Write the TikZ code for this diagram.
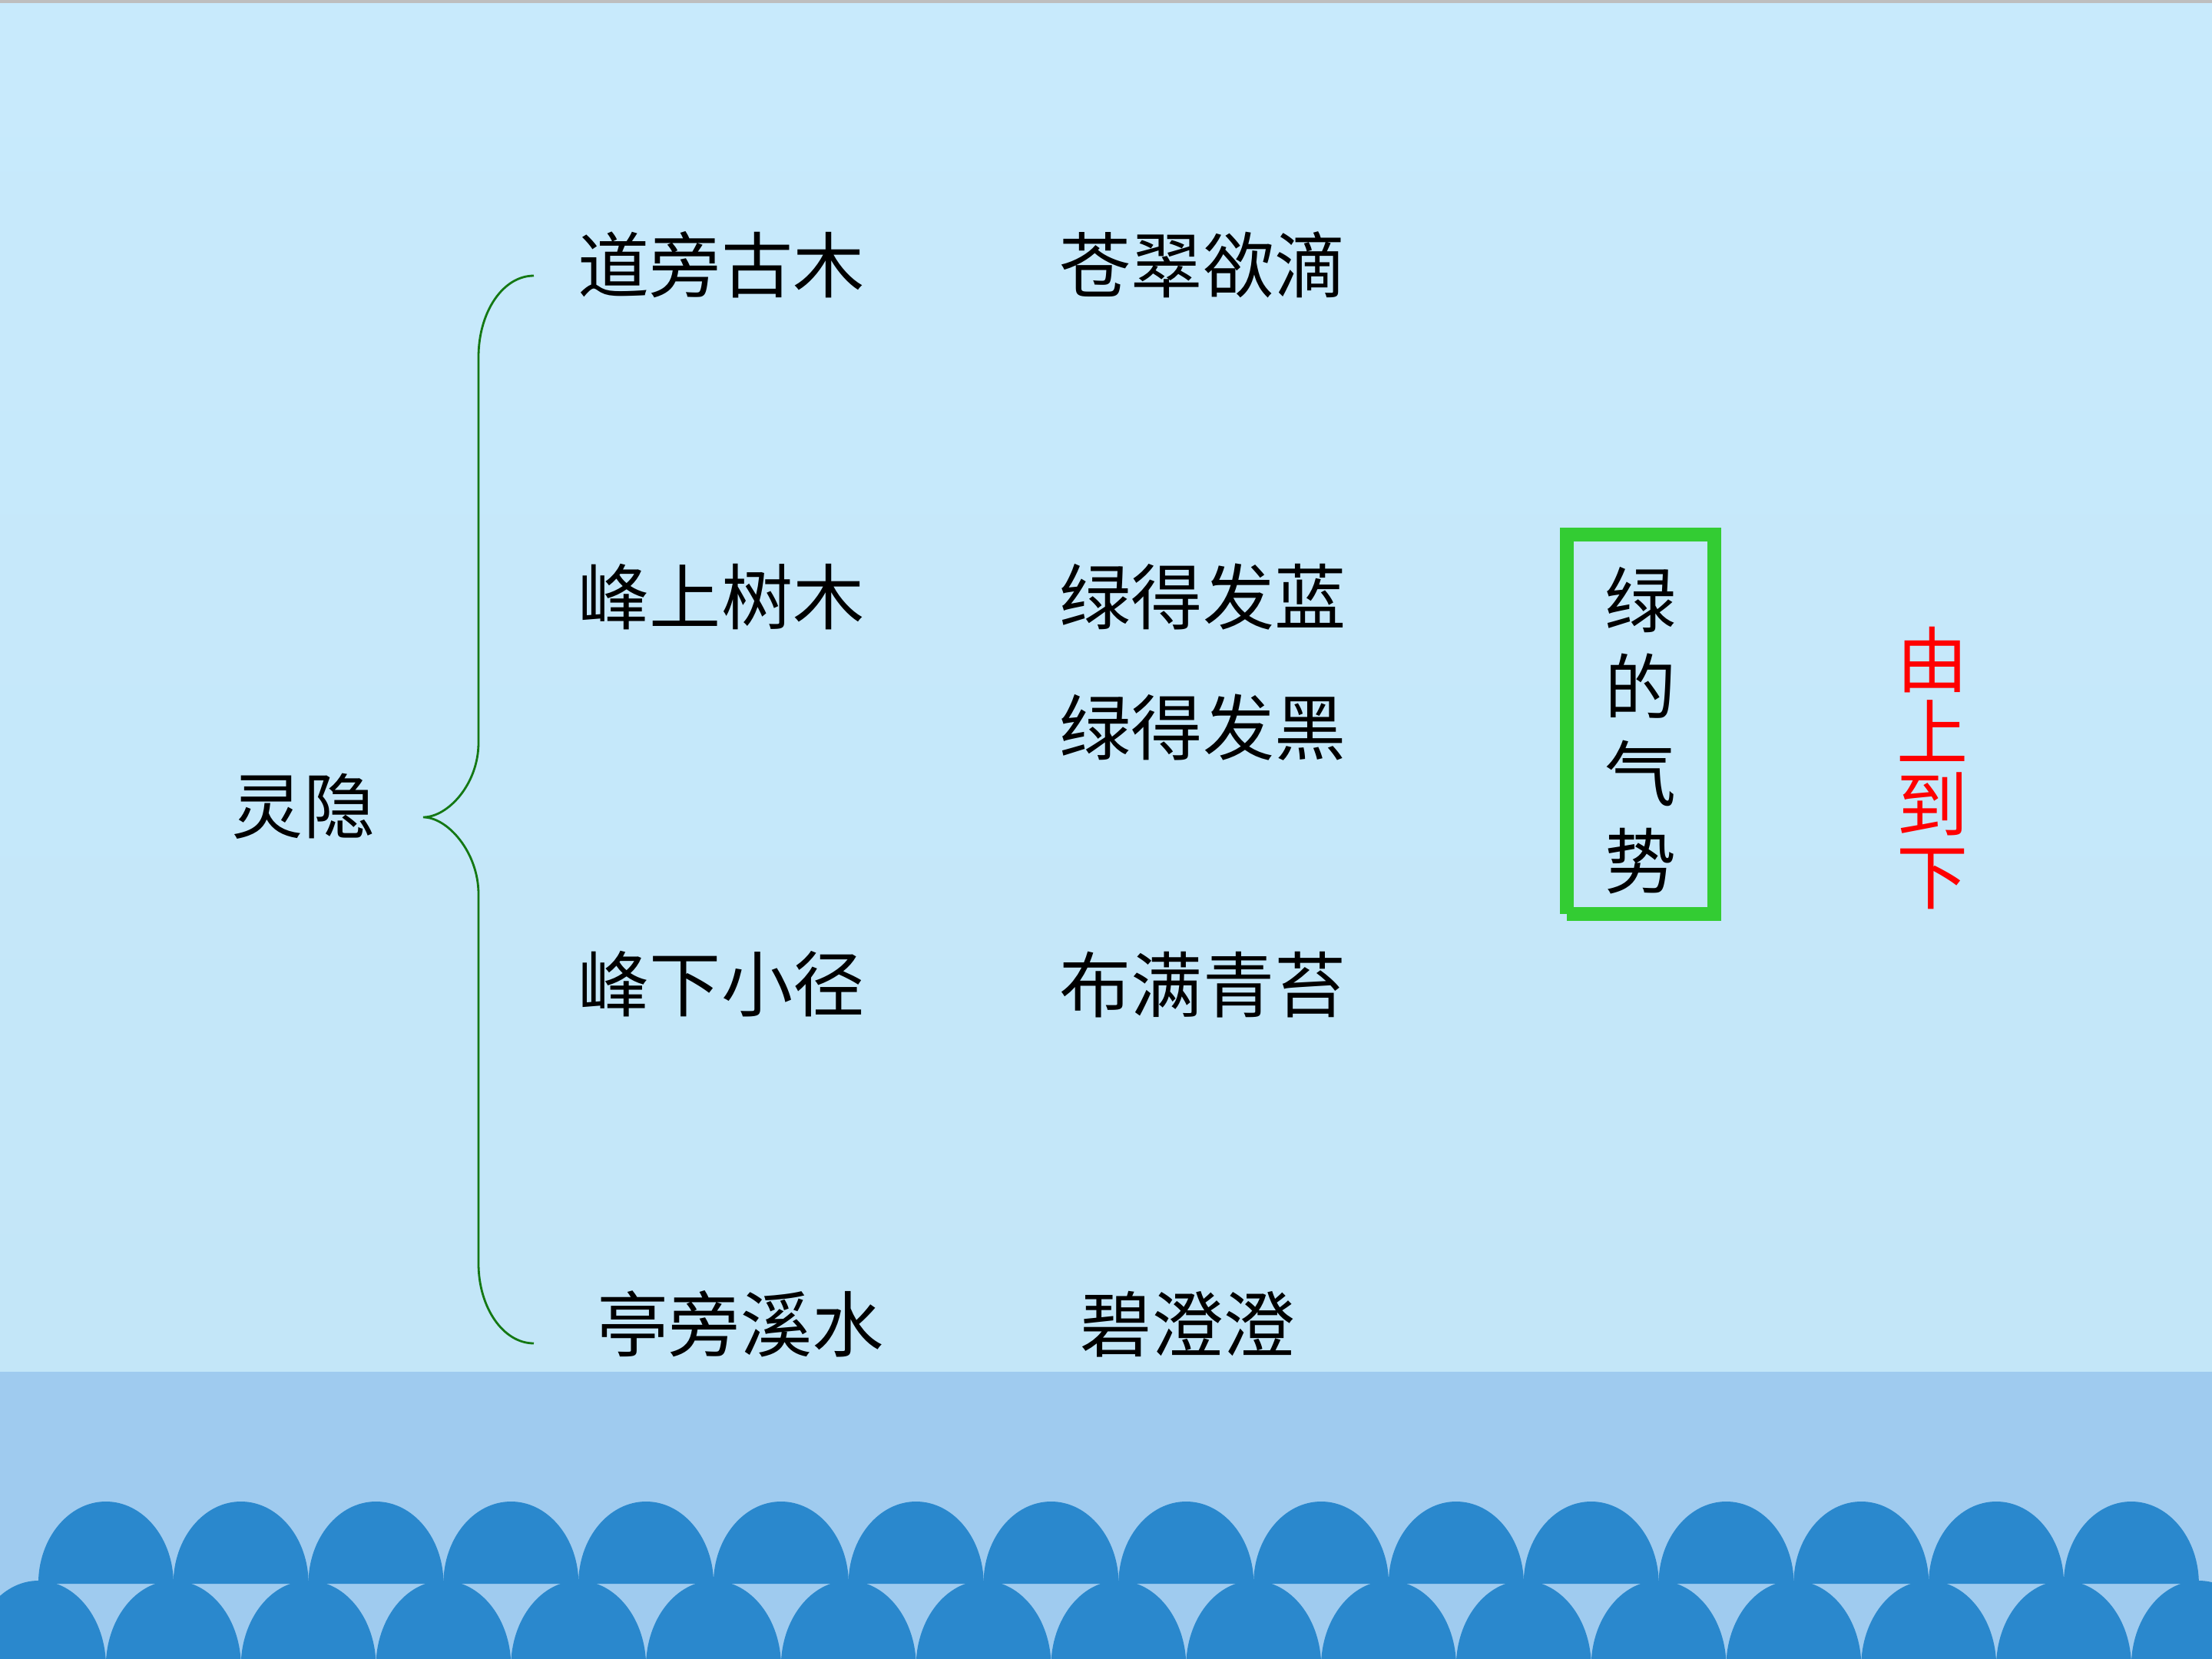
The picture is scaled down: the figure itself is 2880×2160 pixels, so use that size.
\documentclass[tikz,border=0pt]{standalone}
\usepackage{fontspec}
\newfontfamily\cjk{Noto Sans CJK SC}
\definecolor{bgtop}{RGB}{200,234,252}
\definecolor{bgbot}{RGB}{195,230,248}
\definecolor{topline}{RGB}{190,190,190}
\definecolor{bandc}{RGB}{159,203,239}
\definecolor{wavec}{RGB}{42,136,205}
\definecolor{bracec}{RGB}{20,120,20}
\definecolor{boxc}{RGB}{51,204,51}
\begin{document}
\begin{tikzpicture}[x=0.01cm,y=-0.01cm,
  txt/.style={font=\cjk\fontsize{26.5}{26.5}\selectfont, inner sep=0pt, anchor=center},
  vtxt/.style={font=\cjk\fontsize{26.5}{32.2}\selectfont, inner sep=0pt, anchor=center, align=center},
  rtxt/.style={font=\cjk\fontsize{26.5}{26.8}\selectfont, inner sep=0pt, anchor=center, align=center, text=red},
  wave/.style={fill=wavec}]
\useasboundingbox (0,0) rectangle (2880,2160);
% background
\shade[top color=bgtop,bottom color=bgbot] (0,0) rectangle (2880,1786);
\fill[topline] (0,0) rectangle (2880,4);
\fill[bandc] (0,1786) rectangle (2880,2160);
% waves
\begin{scope}
\clip (0,0) rectangle (2880,2160);
\foreach \k in {0,...,15}
  \fill[wave] ({137.9+175.8*\k-88},2062) arc[start angle=180,end angle=360,x radius=88,y radius=107] -- cycle;
\foreach \k in {0,...,16}
  \fill[wave] ({50+175.8*\k-88},2170) arc[start angle=180,end angle=360,x radius=88,y radius=112] -- cycle;
\end{scope}
% brace
\coordinate (btop) at (695,359);
\coordinate (btip) at (551,1064);
\coordinate (bbot) at (695,1749);
\draw[bracec, line width=0.8pt] (btop) .. controls (655,359) and (623,406) .. (623,465)
  -- (623,967) .. controls (623,1021) and (583,1064) .. (btip)
  .. controls (583,1064) and (623,1110) .. (623,1164)
  -- (623,1645) .. controls (623,1702) and (655,1749) .. (bbot);
% left label
\node[txt] (lingyin) at (395,1050) {灵隐};
% left column
\node[txt] (a1) at (939,345) {道旁古木};
\node[txt] (a2) at (939,777) {峰上树木};
\node[txt] (a3) at (939,1281) {峰下小径};
\node[txt] (a4) at (964,1724) {亭旁溪水};
% middle column
\node[txt] (b1) at (1566,345) {苍翠欲滴};
\node[txt] (b2) at (1566,777) {绿得发蓝};
\node[txt] (b3) at (1566,947) {绿得发黑};
\node[txt] (b4) at (1566,1282) {布满青苔};
\node[txt] (b5) at (1546,1724) {碧澄澄};
% green box
\node[vtxt] (qishi) at (2136,951) {绿\\的\\气\\势};
\fill[boxc] (2031,687) rectangle (2241,705);
\fill[boxc] (2223,687) rectangle (2241,1199);
\fill[boxc] (2040,1181) rectangle (2241,1199);
\fill[boxc] (2031,687) rectangle (2049,1190);
% red text
\node[rtxt] (dir) at (2516,1000) {由\\上\\到\\下};
\end{tikzpicture}
\end{document}
